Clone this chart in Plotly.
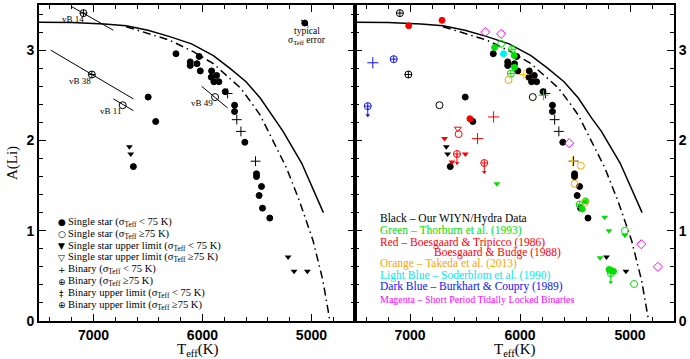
import plotly.graph_objects as go

# ---------------- data ----------------
# model curves
solid_T = [7500, 7200, 6900, 6700, 6500, 6300, 6100, 5900, 5750, 5600, 5470, 5350, 5260, 5090, 4890]
solid_A = [3.31, 3.305, 3.29, 3.27, 3.22, 3.15, 3.07, 2.94, 2.80, 2.65, 2.47, 2.25, 2.10, 1.75, 1.20]
dd_T = [6700, 6480, 6300, 6080, 5900, 5780, 5650, 5540, 5470, 5350, 5230, 5110, 4985, 4895, 4830]
dd_A = [3.26, 3.18, 3.11, 2.98, 2.85, 2.72, 2.58, 2.40, 2.28, 1.99, 1.70, 1.33, 0.89, 0.45, 0.0]

# Our WIYN/Hydra data (black)
single_T = [6498, 6429, 6634, 6243, 6030, 6112, 6112, 6050, 6020, 5916, 5919, 5870, 5895, 5849,
            5791, 5705, 5705, 5611, 5504, 5504, 5458, 5480, 5449, 5382]
single_A = [2.48, 2.21, 1.71, 2.96, 2.93, 2.87, 2.83, 2.85, 2.77, 2.77, 2.70, 2.72, 2.65, 2.65,
            2.54, 2.39, 2.32, 1.98, 1.63, 1.60, 1.49, 1.39, 1.25, 1.14]
ul_T = [6670, 6658, 5214, 5159, 5037]
ul_A = [1.93, 1.85, 0.71, 0.55, 0.55]
bin_T = [5769, 5685, 5647, 5513]
bin_A = [2.52, 2.23, 2.10, 1.77]
vb_names = ["vB 14", "vB 38", "vB 11", "vB 49"]
vb_T = [7092, 7015, 6732, 5884]
vb_A = [3.41, 2.73, 2.39, 2.48]
vb_binary = [True, True, False, False]
vb_err_T1 = [7198, 7393, 6817, 6008]
vb_err_A1 = [3.48, 3.00, 2.46, 2.60]
vb_err_T2 = [6817, 6634, 6634, 5769]
vb_err_A2 = [3.22, 2.46, 2.33, 2.36]
vb_lab_T = [7190, 7122, 6847, 6002]
vb_lab_A = [3.35, 2.66, 2.33, 2.42]
err_T, err_A = 5061, 3.30

# literature (right panel)
red_dot_T = [6709, 7012, 6455]
red_dot_A = [3.33, 3.27, 2.24]
red_bin_T = [6240, 6386]
red_bin_A = [2.26, 2.02]
red_ul_T = [6686, 6497, 6618]
red_ul_A = [2.02, 1.85, 1.76]
red_open_T = [6558]
red_open_A = [2.07]
red_ulopen_T = [6565]
red_ulopen_A = [2.13]
red_binul_T = [6573, 6325]
red_binul_A = [1.85, 1.75]

grn_dot_T = [6231, 6053, 6050, 5404, 5434, 5190, 5170, 5150]
grn_dot_A = [3.03, 2.94, 2.81, 1.33, 1.24, 0.57, 0.56, 0.55]
grn_open_T = [6173, 5046, 4963]
grn_open_A = [3.07, 1.00, 0.41]
grn_binopen_T = [6074, 6083, 5458]
grn_binopen_A = [3.01, 2.74, 1.29]
grn_bin_T = [5787]
grn_bin_A = [2.50]
grn_ul_T = [6210, 5230, 5191, 5272, 5046]
grn_ul_A = [1.52, 1.15, 1.00, 0.70, 0.95]
grn_binul_T = [5175]
grn_binul_A = [0.53]

cyan_T = [6150]
cyan_A = [2.96]

org_open_T = [6104, 5447, 5503, 5410]
org_open_A = [2.67, 1.72, 1.52, 1.31]
org_bin_T = [5965, 5523]
org_bin_A = [2.73, 1.77]

blue_binopen_T = [7148]
blue_binopen_A = [2.90]
blue_bin_T = [7338]
blue_bin_A = [2.86]
blue_binul_T = [7384]
blue_binul_A = [2.38]

mag_T = [6316, 6171, 5553, 4897, 4746]
mag_A = [3.20, 3.18, 1.97, 0.85, 0.60]

left_legend = [
    ("●", "Single star (σ<sub>Teff</sub> < 75 K)"),
    ("○", "Single star (σ<sub>Teff</sub> ≥75 K)"),
    ("▼", "Single star upper limit (σ<sub>Teff</sub> < 75 K)"),
    ("▽", "Single star upper limit (σ<sub>Teff</sub> ≥75 K)"),
    ("+", "Binary (σ<sub>Teff</sub> < 75 K)"),
    ("⊕", "Binary (σ<sub>Teff</sub> ≥75 K)"),
    ("‡", "Binary upper limit (σ<sub>Teff</sub> < 75 K)"),
    ("⊕", "Binary upper limit (σ<sub>Teff</sub> ≥75 K)"),
]
right_legend = [
    ("Black – Our WIYN/Hydra Data", "black"),
    ("Green – Thorburn et al. (1993)", "#00e000"),
    ("Red – Boesgaard & Tripicco (1986)", "#ff0000"),
    ("Boesgaard & Budge (1988)", "#ff0000"),
    ("Orange – Takeda et al. (2013)", "#ffa500"),
    ("Light Blue – Soderblom et al. (1990)", "#00e8f0"),
    ("Dark Blue – Burkhart & Coupry (1989)", "#1010ff"),
    ("Magenta – Short Period Tidally Locked Binaries", "#ff00ff"),
]

# ---------------- figure ----------------
W, H = 690, 359
ML, MR, MT, MB = 39, 15, 3, 38
PW = W - ML - MR
PH = H - MT - MB
split = (355.5 - ML) / PW

def px2x(px):
    return (px - ML) / PW

def py2y(py):
    return (H - MB - py) / PH

fig = go.Figure()

BLACK = "black"
GREEN = "#00e000"
RED = "#ff0000"
ORANGE = "#ffa500"
YEL = "#ffcc00"
CYAN = "#00f0f0"
BLUE = "#1010ff"
MAG = "#ff00ff"


def pts(T, A, ax, symbol, color, size=6, lw=1.0):
    fig.add_trace(go.Scatter(
        x=T, y=A, xaxis="x" + ax, yaxis="y" + ax, mode="markers", showlegend=False,
        hoverinfo="skip",
        marker=dict(symbol=symbol, color=color, size=size, line=dict(color=color, width=lw))))


def binul(T, A, ax, color, inner="circle-cross-open"):
    pts(T, A, ax, inner, color, 7, 1)
    pts(T, [a - 0.06 for a in A], ax, "line-ns-open", color, 7, 1)
    pts(T, [a - 0.1 for a in A], ax, "triangle-down", color, 4, 0)


def note(x, y, text, size, color="black", xanchor="center", family="Liberation Serif", **kw):
    fig.add_annotation(x=x, y=y, xref="paper", yref="paper", text=text, showarrow=False,
                       xanchor=xanchor, yanchor="middle",
                       font=dict(family=family, size=size, color=color), **kw)


for ax in ["", "2"]:
    fig.add_trace(go.Scatter(x=solid_T, y=solid_A, xaxis="x" + ax, yaxis="y" + ax, mode="lines",
                             line=dict(color="black", width=1.5), showlegend=False, hoverinfo="skip"))
    fig.add_trace(go.Scatter(x=dd_T, y=dd_A, xaxis="x" + ax, yaxis="y" + ax, mode="lines",
                             line=dict(color="black", width=1.5, dash="8px,4px,1.5px,4px"),
                             showlegend=False, hoverinfo="skip"))

# left panel: error lines of vB stars
for i in range(len(vb_T)):
    fig.add_trace(go.Scatter(x=[vb_err_T1[i], vb_err_T2[i]], y=[vb_err_A1[i], vb_err_A2[i]],
                             mode="lines", line=dict(color="black", width=1), showlegend=False,
                             hoverinfo="skip"))
    fig.add_annotation(x=vb_lab_T[i], y=vb_lab_A[i], xref="x", yref="y", text=vb_names[i],
                       showarrow=False, xanchor="center", yanchor="middle",
                       font=dict(family="Liberation Serif", size=9, color="black"))
# typical error
fig.add_trace(go.Scatter(x=[err_T + 35, err_T - 35], y=[err_A + 0.035, err_A - 0.035], mode="lines",
                         line=dict(color="black", width=1), showlegend=False, hoverinfo="skip"))
pts([err_T], [err_A], "", "circle", BLACK, 6)
note(px2x(307), py2y(29.5), "typical", 9.5)
note(px2x(307), py2y(38.5), "σ<sub>Teff</sub> error", 9.5)

# black data in both panels
for ax in ["", "2"]:
    pts(single_T, single_A, ax, "circle", BLACK, 6)
    pts(ul_T, ul_A, ax, "triangle-down", BLACK, 6, 0)
    pts(bin_T, bin_A, ax, "cross-thin-open", BLACK, 7, 1)
    pts([t for t, b in zip(vb_T, vb_binary) if b], [a for a, b in zip(vb_A, vb_binary) if b], ax,
        "circle-cross-open", BLACK, 7, 1)
    pts([t for t, b in zip(vb_T, vb_binary) if not b], [a for a, b in zip(vb_A, vb_binary) if not b], ax,
        "circle-open", BLACK, 7, 1)

ax = "2"
pts(red_dot_T, red_dot_A, ax, "circle", RED, 6)
pts(red_bin_T, red_bin_A, ax, "cross-thin-open", RED, 8, 1)
pts(red_ul_T, red_ul_A, ax, "triangle-down", RED, 6, 0)
pts(red_open_T, red_open_A, ax, "circle-open", RED, 7, 1)
pts(red_ulopen_T, red_ulopen_A, ax, "triangle-down-open", RED, 6, 1)
binul(red_binul_T, red_binul_A, ax, RED)

pts(grn_dot_T, grn_dot_A, ax, "circle", GREEN, 6)
pts(grn_open_T, grn_open_A, ax, "circle-open", GREEN, 7, 1)
pts(grn_binopen_T, grn_binopen_A, ax, "circle-cross-open", GREEN, 7, 1)
pts(grn_bin_T, grn_bin_A, ax, "cross-thin-open", GREEN, 7, 1)
pts(grn_ul_T, grn_ul_A, ax, "triangle-down", GREEN, 6, 0)
binul(grn_binul_T, grn_binul_A, ax, GREEN)

pts(cyan_T, cyan_A, ax, "circle", CYAN, 6)
pts(org_open_T, org_open_A, ax, "circle-open", ORANGE, 7, 1)
pts(org_bin_T, org_bin_A, ax, "cross-thin-open", YEL, 7, 1)

pts(blue_binopen_T, blue_binopen_A, ax, "circle-cross-open", BLUE, 7, 1)
pts(blue_bin_T, blue_bin_A, ax, "cross-thin-open", BLUE, 8, 1)
binul(blue_binul_T, blue_binul_A, ax, BLUE)

pts(mag_T, mag_A, ax, "diamond-open", MAG, 7, 1)

# left legend
for i, (sym, txt) in enumerate(left_legend):
    yy = py2y(221.7 + i * 11.95)
    note(px2x(62), yy, sym, 9, family="DejaVu Sans")
    note(px2x(66.5), yy, txt, 10.5, xanchor="left")

# right legend
ry = [217.7, 230, 241.7, 251.7, 263.3, 275, 286.7, 299]
for i, (txt, col) in enumerate(right_legend):
    xx = 432.7 if i == 3 else 378.3
    sz = 10 if i == 7 else 11.5
    note(px2x(xx), py2y(ry[i]), txt, sz, color=col, xanchor="left")

# axis titles
for cx in [px2x((ML + 355.5) / 2), px2x((355.5 + W - MR) / 2)]:
    note(cx, py2y(350), "T<sub>eff</sub>(K)", 15)
note(px2x(12), py2y(162), "A(Li)", 15, textangle=-90)

tickfont = dict(family="Liberation Sans", size=14, color="black", weight="bold")
xcommon = dict(range=[7500, 4600], tick0=5000, dtick=1000, ticks="inside", ticklen=7, tickwidth=1.2,
               minor=dict(dtick=200, ticklen=4, ticks="inside", tickwidth=1, tickcolor="black"),
               showline=True, linewidth=2, linecolor="black", mirror="allticks", showgrid=False,
               zeroline=False, tickfont=tickfont, tickcolor="black")
ycommon = dict(range=[0, 3.5], tick0=0, dtick=1, ticks="inside", ticklen=7, tickwidth=1.2,
               minor=dict(dtick=0.2, ticklen=4, ticks="inside", tickwidth=1, tickcolor="black"),
               showline=True, linewidth=2, linecolor="black", mirror="allticks", showgrid=False,
               zeroline=False, tickfont=tickfont, tickcolor="black")

fig.update_layout(
    width=W, height=H,
    margin=dict(l=ML, r=MR, t=MT, b=MB),
    paper_bgcolor="white", plot_bgcolor="white",
    showlegend=False,
    xaxis=dict(domain=[0, split], anchor="y", **xcommon),
    yaxis=dict(domain=[0, 1], anchor="x", side="left", **ycommon),
    xaxis2=dict(domain=[split, 1], anchor="y2", **xcommon),
    yaxis2=dict(domain=[0, 1], anchor="x2", side="right", **ycommon),
)

fig.write_html("out.html", config={"displayModeBar": False},
               post_script="document.body.style.margin='0px';document.body.style.overflow='hidden';")
